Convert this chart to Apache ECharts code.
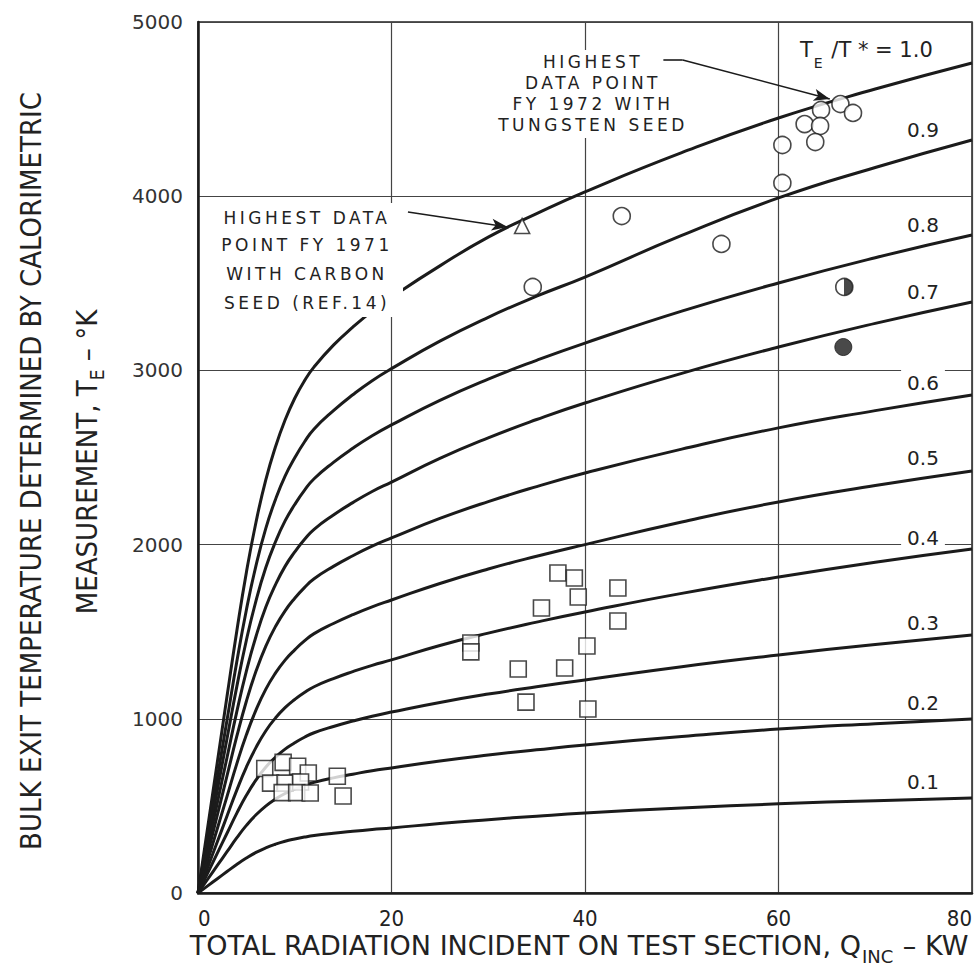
<!DOCTYPE html>
<html>
<head>
<meta charset="utf-8">
<script src="https://cdn.jsdelivr.net/npm/echarts@6.0.0/dist/echarts.min.js"></script>
<style>
html, body { margin: 0; padding: 0; background: #ffffff; }
#main { width: 978px; height: 980px; }
#main text[style*="17px"] { letter-spacing: 3.5px; }
</style>
</head>
<body>
<div id="main"></div>
<script>
// ---------------- DATA ----------------
const xTicks = [0, 20, 40, 60, 80];
const yTicks = [0, 1000, 2000, 3000, 4000, 5000];
const curveX = [0, 1, 2, 3, 4, 5, 6, 7, 8, 9, 10, 11, 12, 14, 16, 18, 20, 25, 30, 35, 40, 50, 60, 70, 80];
const curveLabels = ['1.0', '0.9', '0.8', '0.7', '0.6', '0.5', '0.4', '0.3', '0.2', '0.1'];
const curve10 = [0, 376, 752, 1129, 1500, 1840, 2130, 2370, 2560, 2715, 2840, 2940, 3020, 3145, 3248, 3340, 3420, 3600, 3765, 3900, 4025, 4250, 4449, 4615, 4765];
const curve09 = [0, 331, 662, 993, 1324, 1625, 1881, 2092, 2258, 2393, 2498, 2589, 2664, 2769, 2860, 2941, 3010, 3168, 3305, 3426, 3536, 3775, 3990, 4165, 4323];
const curve08 = [0, 296, 591, 887, 1182, 1451, 1679, 1867, 2015, 2136, 2230, 2311, 2378, 2472, 2553, 2625, 2687, 2828, 2950, 3058, 3157, 3340, 3502, 3647, 3777];
const curve07 = [0, 259, 519, 778, 1038, 1274, 1474, 1640, 1769, 1875, 1958, 2029, 2088, 2170, 2241, 2305, 2359, 2495, 2613, 2718, 2813, 2983, 3134, 3270, 3393];
const curve06 = [0, 224, 448, 673, 897, 1101, 1274, 1416, 1529, 1620, 1692, 1753, 1804, 1875, 1936, 1991, 2038, 2150, 2247, 2333, 2411, 2548, 2670, 2769, 2859];
const curve05 = [0, 185, 370, 555, 740, 908, 1051, 1169, 1262, 1337, 1396, 1447, 1489, 1547, 1598, 1643, 1682, 1777, 1860, 1933, 2000, 2130, 2245, 2339, 2423];
const curve04 = [0, 147, 294, 442, 589, 723, 836, 930, 1004, 1064, 1111, 1151, 1184, 1231, 1271, 1307, 1338, 1421, 1492, 1555, 1613, 1720, 1814, 1899, 1975];
const curve03 = [0, 114, 229, 343, 457, 561, 649, 722, 779, 826, 862, 894, 920, 956, 987, 1015, 1039, 1094, 1142, 1184, 1223, 1299, 1366, 1427, 1481];
const curve02 = [0, 79, 158, 237, 316, 388, 449, 499, 539, 571, 596, 617, 635, 661, 682, 702, 718, 758, 792, 822, 850, 898, 941, 972, 999];
const curve01 = [0, 41, 82, 123, 164, 201, 233, 259, 280, 297, 310, 321, 330, 343, 354, 364, 373, 399, 421, 441, 459, 488, 512, 530, 545];

// measured points (x in kW, y in K)
const squaresLow = [[6.9, 715], [8.8, 750], [10.3, 728], [11.4, 689], [7.5, 631], [9.0, 631], [10.6, 637],
                    [8.7, 576], [10.2, 576], [11.6, 574], [14.4, 670], [15.0, 557]];
const squaresMid = [[37.2, 1837], [38.9, 1808], [39.3, 1699], [43.4, 1751], [43.4, 1561], [35.5, 1636],
                    [28.2, 1435], [28.2, 1384], [33.1, 1286], [37.9, 1292], [40.2, 1418], [33.9, 1096], [40.3, 1056]];
const circlesOpen = [[34.6, 3479], [43.8, 3886], [54.1, 3726], [60.4, 4294], [60.4, 4076], [62.7, 4414],
                     [64.4, 4495], [64.3, 4403], [63.8, 4311], [66.4, 4529], [67.7, 4478]];
const circleHalf = [[66.8, 3479]];
const circleFilled = [[66.7, 3134]];
const triangleFY1971 = [[33.5, 3829]];

// annotation arrows (data coords)
const arrow1971 = [[21.7, 3909], [32.0, 3823]];
const arrow1972 = [[48.1, 4782], [50.1, 4782], [65.3, 4558]];

// ---------------- CHART ----------------
const INK = '#1b1b1b';
const curves = [curve10, curve09, curve08, curve07, curve06, curve05, curve04, curve03, curve02, curve01];

const mctx = document.createElement('canvas').getContext('2d');
function tw(str, size, fam) { mctx.font = size + 'px "' + fam + '"'; return mctx.measureText(str).width; }

const chart = echarts.init(document.getElementById('main'), null, { renderer: 'svg', width: 978, height: 980 });

const series = [];
curves.forEach((c, i) => {
  series.push({
    type: 'line', name: 'T/T* = ' + curveLabels[i],
    data: curveX.map((x, j) => [x, c[j]]),
    showSymbol: false, symbol: 'none', smooth: 0.5, silent: true, z: 2,
    lineStyle: { color: INK, width: 3 }
  });
});
const openStyle = { color: '#ffffff', borderColor: INK, borderWidth: 1.6 };
series.push({ type: 'scatter', name: 'low squares', data: squaresLow, symbol: 'rect', symbolSize: 16, itemStyle: openStyle, z: 5, silent: true });
series.push({ type: 'scatter', name: 'mid squares', data: squaresMid, symbol: 'rect', symbolSize: 16, itemStyle: openStyle, z: 5, silent: true });
series.push({
  type: 'scatter', name: 'circles', data: circlesOpen, symbol: 'circle', symbolSize: 17, itemStyle: openStyle, z: 5, silent: true,
  markLine: {
    silent: true, animation: false, symbol: ['none', 'none'], symbolSize: [9, 16],
    label: { show: false }, lineStyle: { color: INK, width: 1.6, type: 'solid' },
    data: [
      [{ coord: arrow1972[0] }, { coord: arrow1972[1] }],
      [{ coord: arrow1972[1] }, { coord: arrow1972[2], symbol: 'arrow', symbolSize: [9, 16] }]
    ]
  }
});
series.push({
  type: 'scatter', name: 'half', data: circleHalf, symbol: 'circle', symbolSize: 17, z: 5, silent: true,
  itemStyle: { color: { type: 'linear', x: 0, y: 0, x2: 1, y2: 0, colorStops: [
    { offset: 0, color: '#ffffff' }, { offset: 0.5, color: '#ffffff' }, { offset: 0.5, color: INK }, { offset: 1, color: INK }] },
    borderColor: INK, borderWidth: 1.6 }
});
series.push({ type: 'scatter', name: 'filled', data: circleFilled, symbol: 'circle', symbolSize: 17, itemStyle: { color: INK, borderColor: INK, borderWidth: 1 }, z: 5, silent: true });
series.push({
  type: 'scatter', name: 'FY1971', data: triangleFY1971, symbol: 'triangle', symbolSize: 15, itemStyle: openStyle, z: 5, silent: true,
  markLine: {
    silent: true, animation: false, symbol: ['none', 'arrow'], symbolSize: [9, 16],
    label: { show: false }, lineStyle: { color: INK, width: 1.6, type: 'solid' },
    data: [[{ coord: arrow1971[0] }, { coord: arrow1971[1] }]]
  }
});

// ---- text / graphic ----
const SANS = 'DejaVu Sans';
const COND = 'DejaVu Sans Condensed';
const graphic = [];
// white panels behind the annotation blocks
graphic.push({ type: 'rect', shape: { x: 213, y: 203, width: 190, height: 114 }, style: { fill: '#ffffff' }, z: 4, silent: true });
graphic.push({ type: 'rect', shape: { x: 494, y: 50, width: 200, height: 88 }, style: { fill: '#ffffff' }, z: 4, silent: true });
const ann1 = ['HIGHEST DATA', 'POINT FY 1971', 'WITH CARBON', 'SEED (REF.14)'];
const ann1Y = [218, 245, 274, 303];
ann1.forEach((t, i) => graphic.push({ type: 'text', x: 307, y: ann1Y[i], z: 20, silent: true,
  style: { text: t, fontSize: 17, fontFamily: SANS, fill: '#222', align: 'center', verticalAlign: 'middle' } }));
const ann2 = ['HIGHEST', 'DATA POINT', 'FY 1972 WITH', 'TUNGSTEN SEED'];
const ann2Y = [62, 83, 104, 125];
ann2.forEach((t, i) => graphic.push({ type: 'text', x: 593, y: ann2Y[i], z: 20, silent: true,
  style: { text: t, fontSize: 17, fontFamily: SANS, fill: '#222', align: 'center', verticalAlign: 'middle' } }));

// curve labels
const labelY = [null, 130, 225, 292, 383, 458, 538, 623, 703, 782];
for (let i = 1; i < curveLabels.length; i++) {
  graphic.push({ type: 'text', x: 923, y: labelY[i], z: 20, silent: true,
    style: { text: curveLabels[i], fontSize: 20, fontFamily: SANS, fill: '#222', align: 'center', verticalAlign: 'middle',
      backgroundColor: '#ffffff', padding: [3, 6, 3, 6] } });
}
// "T_E /T * = 1.0"
(function () {
  let x0 = 800;
  graphic.push({ type: 'text', x: x0, y: 50, z: 20, silent: true, style: { text: 'T', fontSize: 21, fontFamily: SANS, fill: '#222', align: 'left', verticalAlign: 'middle' } });
  x0 += tw('T', 21, SANS) + 1;
  graphic.push({ type: 'text', x: x0, y: 63, z: 20, silent: true, style: { text: 'E', fontSize: 14, fontFamily: SANS, fill: '#222', align: 'left', verticalAlign: 'middle' } });
  x0 += tw('E', 14, SANS) + 2;
  graphic.push({ type: 'text', x: x0, y: 50, z: 20, silent: true, style: { text: ' /T * = ' + curveLabels[0], fontSize: 21, fontFamily: SANS, fill: '#222', align: 'left', verticalAlign: 'middle' } });
})();

// x-axis title
(function () {
  const m = 'TOTAL RADIATION INCIDENT ON TEST SECTION, Q', s = 'INC', t = ' \u2013 KW';
  const wm = tw(m, 27, SANS), ws = tw(s, 18, SANS), wt = tw(t, 27, SANS);
  let x0 = 578 - (wm + ws + wt) / 2;
  graphic.push({ type: 'text', x: x0, y: 945, z: 20, silent: true, style: { text: m, fontSize: 27, fontFamily: SANS, fill: '#222', align: 'left', verticalAlign: 'middle' } });
  graphic.push({ type: 'text', x: x0 + wm + 1, y: 956, z: 20, silent: true, style: { text: s, fontSize: 18, fontFamily: SANS, fill: '#222', align: 'left', verticalAlign: 'middle' } });
  graphic.push({ type: 'text', x: x0 + wm + ws + 2, y: 945, z: 20, silent: true, style: { text: t, fontSize: 27, fontFamily: SANS, fill: '#222', align: 'left', verticalAlign: 'middle' } });
})();
// y-axis title (two rotated lines)
graphic.push({ type: 'text', x: 31, y: 471, rotation: Math.PI / 2, z: 20, silent: true,
  style: { text: 'BULK EXIT TEMPERATURE DETERMINED BY CALORIMETRIC', fontSize: 29, fontFamily: COND, fill: '#222', align: 'center', verticalAlign: 'middle' } });
(function () {
  const m = 'MEASUREMENT, T', s = 'E', t = ' \u2013 \u00B0K';
  const wm = tw(m, 29, COND), ws = tw(s, 19, COND), wt = tw(t, 29, COND);
  let y0 = 462 + (wm + ws + wt) / 2;
  graphic.push({ type: 'text', x: 87, y: y0, rotation: Math.PI / 2, z: 20, silent: true, style: { text: m, fontSize: 29, fontFamily: COND, fill: '#222', align: 'left', verticalAlign: 'middle' } });
  graphic.push({ type: 'text', x: 97, y: y0 - wm, rotation: Math.PI / 2, z: 20, silent: true, style: { text: s, fontSize: 19, fontFamily: COND, fill: '#222', align: 'left', verticalAlign: 'middle' } });
  graphic.push({ type: 'text', x: 87, y: y0 - wm - ws, rotation: Math.PI / 2, z: 20, silent: true, style: { text: t, fontSize: 29, fontFamily: COND, fill: '#222', align: 'left', verticalAlign: 'middle' } });
})();

const option = {
  animation: false,
  backgroundColor: '#ffffff',
  textStyle: { fontFamily: SANS },
  grid: { left: 198, right: 6, top: 22, bottom: 87, show: true, borderColor: '#222', borderWidth: 1.5,
          backgroundColor: 'transparent', outerBoundsMode: 'none', containLabel: false },
  xAxis: {
    type: 'value', min: xTicks[0], max: xTicks[xTicks.length - 1], interval: xTicks[1] - xTicks[0],
    axisLine: { show: true, onZero: false, lineStyle: { color: INK, width: 2.5 } },
    axisTick: { show: false },
    axisLabel: { margin: 14, fontSize: 22, fontFamily: COND, color: '#222', formatter: v => String(v),
                 alignMinLabel: 'left', alignMaxLabel: 'right' },
    splitLine: { show: true, lineStyle: { color: '#444', width: 1.2 } }
  },
  yAxis: {
    type: 'value', min: yTicks[0], max: yTicks[yTicks.length - 1], interval: yTicks[1] - yTicks[0],
    axisLine: { show: true, onZero: false, lineStyle: { color: INK, width: 2.5 } },
    axisTick: { show: false },
    axisLabel: { margin: 15, fontSize: 20, fontFamily: SANS, color: '#333', formatter: v => String(v) },
    splitLine: { show: true, lineStyle: { color: '#444', width: 1.2 } }
  },
  series: series,
  graphic: graphic
};
chart.setOption(option);
</script>
</body>
</html>
